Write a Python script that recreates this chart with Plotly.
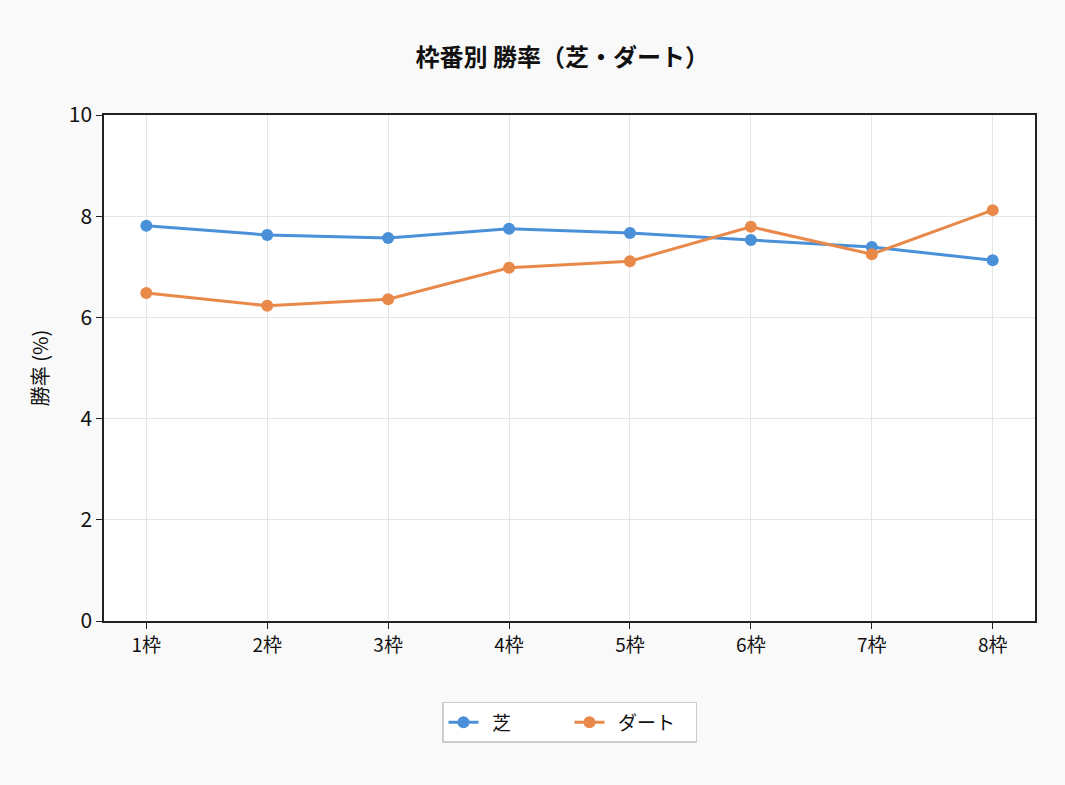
import plotly.graph_objects as go

categories = ["1枠", "2枠", "3枠", "4枠", "5枠", "6枠", "7枠", "8枠"]
turf = [7.81, 7.63, 7.57, 7.75, 7.67, 7.53, 7.39, 7.13]
dirt = [6.48, 6.23, 6.36, 6.98, 7.11, 7.79, 7.25, 8.12]
y_ticks = [0, 2, 4, 6, 8, 10]
series_names = ["芝", "ダート"]

FONT = "Noto Sans CJK JP"
PAD = "\u00a0\u00a0"

fig = go.Figure()
fig.add_trace(go.Scatter(x=categories, y=turf, name=PAD + series_names[0], mode="lines+markers",
                         line=dict(color="#4a90d9", width=3),
                         marker=dict(size=12, color="#4a90d9")))
fig.add_trace(go.Scatter(x=categories, y=dirt, name=PAD + series_names[1], mode="lines+markers",
                         line=dict(color="#e8894a", width=3),
                         marker=dict(size=12, color="#e8894a")))

fig.update_layout(
    width=1065, height=785,
    paper_bgcolor="#f9f9f9", plot_bgcolor="#ffffff",
    font=dict(family=FONT, size=19, color="#111111"),
    title=dict(text="<b>枠番別 勝率（芝・ダート）</b>", x=0.528, xanchor="center",
               y=0.926, yanchor="middle", font=dict(size=24, color="#111111")),
    margin=dict(l=104, r=30, t=115, b=164),
    showlegend=True,
    legend=dict(orientation="h", x=0.5, xanchor="center", y=-0.16, yanchor="top",
                bgcolor="#ffffff", bordercolor="#cccccc", borderwidth=1.5,
                font=dict(size=19), entrywidth=81),
    xaxis=dict(type="category", range=[-0.35, 7.35], showline=True, linecolor="#222222",
               linewidth=1.5, mirror=True, ticks="outside", ticklen=6, tickcolor="#222222",
               showgrid=True, gridcolor="#e5e5e5", gridwidth=1, tickfont=dict(size=19)),
    yaxis=dict(range=[0, 10], tickvals=y_ticks, showline=True, linecolor="#222222",
               linewidth=1.5, mirror=True, ticks="outside", ticklen=6, tickcolor="#222222",
               showgrid=True, gridcolor="#e5e5e5", gridwidth=1, zeroline=False,
               title=dict(text="勝率 (%)", font=dict(size=20), standoff=15),
               tickfont=dict(size=21)),
)

fig.write_html("out.html")
